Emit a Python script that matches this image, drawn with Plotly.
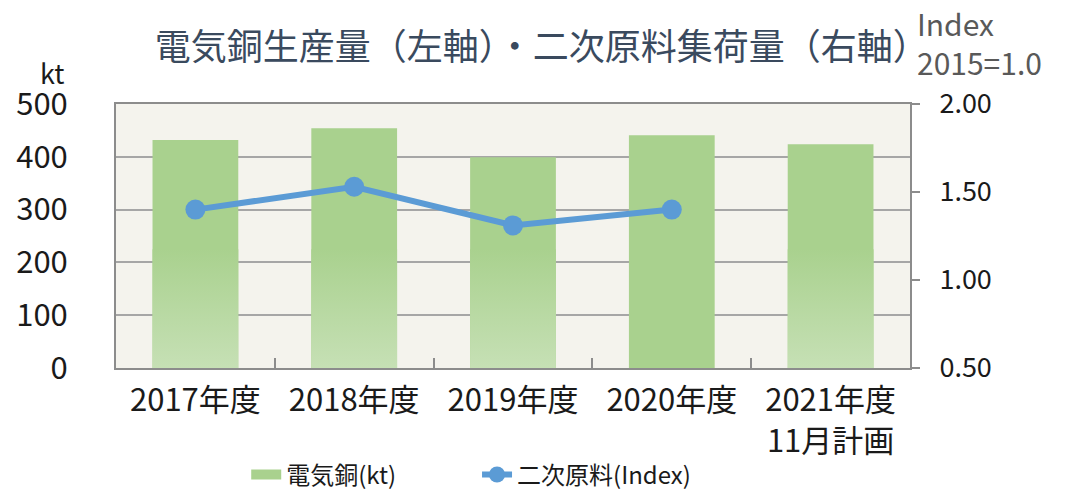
import plotly.graph_objects as go

categories = ["2017年度", "2018年度", "2019年度", "2020年度", "2021年度<br>11月計画"]
copper_kt = [432, 454, 399, 441, 424]
secondary_index = [1.40, 1.53, 1.31, 1.40, None]
gradient_bars = [True, True, True, False, True]

FONT = "Noto Sans CJK JP"
BAR_COLOR = "#A9D18E"
BAR_LIGHT = "#C6E0B5"
LINE_COLOR = "#5B9BD5"
BAR_WIDTH = 0.54
GRAD_TOP = 225

xs = list(range(len(categories)))

fig = go.Figure()

fig.add_trace(go.Bar(
    x=xs, y=copper_kt, width=BAR_WIDTH, name="電気銅(kt)",
    marker=dict(color=BAR_COLOR, line=dict(width=0)),
    yaxis="y", hoverinfo="skip", showlegend=False,
))

# gradient overlay on the lower part of the bars
gx, gy = [], []
for i, (v, g) in enumerate(zip(copper_kt, gradient_bars)):
    if not g:
        continue
    top = min(v, GRAD_TOP)
    l, r = i - BAR_WIDTH / 2, i + BAR_WIDTH / 2
    gx += [l, r, r, l, l, None]
    gy += [0, 0, top, top, 0, None]
fig.add_trace(go.Scatter(
    x=gx, y=gy, mode="lines", fill="toself", line=dict(width=0),
    fillgradient=dict(type="vertical", start=0, stop=GRAD_TOP,
                      colorscale=[[0, BAR_LIGHT], [1, BAR_COLOR]]),
    showlegend=False, hoverinfo="skip", yaxis="y",
))

# legend swatch for the bars (wide rectangle like the reference)
fig.add_trace(go.Scatter(
    x=[None], y=[None], mode="lines", name="電気銅(kt)",
    line=dict(color=BAR_COLOR, width=18), yaxis="y", legend="legend",
))

fig.add_trace(go.Scatter(
    x=xs, y=secondary_index, name="二次原料(Index)", yaxis="y2",
    mode="lines+markers", legend="legend2",
    line=dict(color=LINE_COLOR, width=6),
    marker=dict(color=LINE_COLOR, size=20),
))

legend_common = dict(orientation="h", y=-0.405, yanchor="middle",
                     xanchor="left", font=dict(size=24, family=FONT),
                     bgcolor="rgba(0,0,0,0)")

fig.update_layout(
    width=1066, height=484,
    margin=dict(l=108, r=164, t=96, b=124, autoexpand=False),
    paper_bgcolor="white", plot_bgcolor="#F4F3ED",
    font=dict(family=FONT, size=30, color="#1a1a1a"),
    showlegend=True, barmode="overlay",
    title=dict(text="電気銅生産量（左軸）・二次原料集荷量（右軸）",
               font=dict(family=FONT, size=36, color="#3A4A5E"),
               x=0.5006, xanchor="center", y=0.919, yanchor="middle"),
    xaxis=dict(range=[-0.5, 4.5], tickvals=xs, ticktext=categories,
               ticks="", showgrid=False, showline=True, linecolor="#8C8C8C",
               linewidth=2, mirror=True, zeroline=False, automargin=False,
               ticklabelstandoff=4, tickfont=dict(size=31),
               minor=dict(ticks="inside", tickvals=[0.5, 1.5, 2.5, 3.5],
                          ticklen=10, tickcolor="#8C8C8C", tickwidth=1.5,
                          showgrid=False)),
    yaxis=dict(range=[0, 500], dtick=100, showgrid=True, gridcolor="#A6A6A6",
               gridwidth=2, showline=True, linecolor="#8C8C8C", linewidth=2,
               zeroline=False, ticks="", ticklabelstandoff=40, automargin=False,
               tickfont=dict(size=31)),
    yaxis2=dict(range=[0.5, 2.0], tickvals=[0.5, 1.0, 1.5, 2.0],
                ticktext=["0.50", "1.00", "1.50", "2.00"],
                overlaying="y", side="right", showgrid=False,
                showline=True, linecolor="#8C8C8C", linewidth=2,
                ticks="outside", ticklen=8, tickcolor="#8C8C8C", tickwidth=1.5,
                zeroline=False, ticklabelstandoff=14, automargin=False,
                tickfont=dict(size=27)),
    legend=dict(x=0.164, **legend_common),
    legend2=dict(x=0.4547, **legend_common),
    annotations=[
        dict(text="kt", xref="paper", yref="paper", x=-0.081, y=1.121,
             xanchor="center", yanchor="middle", showarrow=False,
             font=dict(size=27, family=FONT, color="#1a1a1a")),
        dict(text="Index<br>2015=1.0", xref="paper", yref="paper",
             x=1.006, y=1.232, xanchor="left", yanchor="middle", align="left",
             showarrow=False,
             font=dict(size=30, family=FONT, color="#595959")),
    ],
)

fig.write_html("out.html")
